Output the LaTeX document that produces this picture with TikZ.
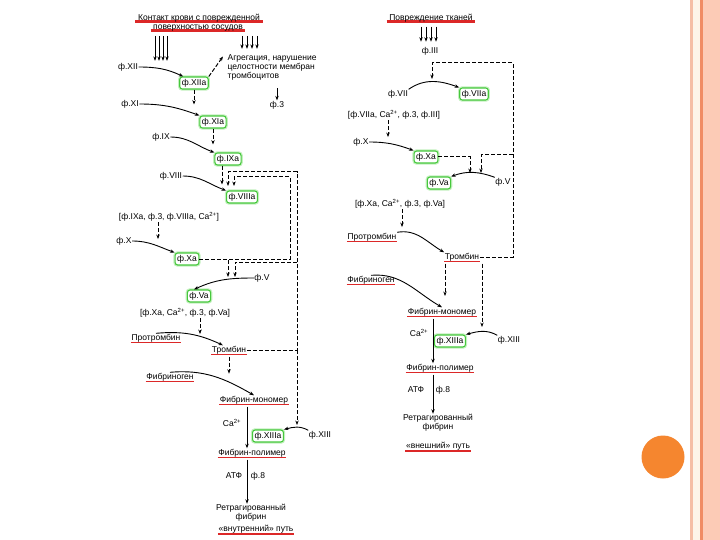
\documentclass[tikz,border=0pt]{standalone}
\usepackage{fontspec}
\setmainfont{Liberation Sans}
\usetikzlibrary{arrows.meta,backgrounds}
\definecolor{gbox}{RGB}{70,200,60}
\definecolor{gglow}{RGB}{195,240,190}
\definecolor{ured}{RGB}{220,40,40}
\definecolor{salm}{RGB}{252,203,182}
\definecolor{salm2}{RGB}{245,190,165}
\definecolor{cream}{RGB}{253,244,232}
\definecolor{orl}{RGB}{240,140,100}
\definecolor{ball}{RGB}{245,134,47}
\newcommand{\CaTwo}{Ca\textsuperscript{2+}}
\begin{document}
\begin{tikzpicture}[x=1pt,y=-1pt,
  t/.style={font=\fontsize{8.5}{9}\selectfont, inner sep=0.5pt, align=center},
  fb/.style={t, draw=gbox, line width=1.1pt, rounded corners=2.5pt, fill=white, inner xsep=2pt, inner ysep=2pt, preaction={draw=gglow, line width=3.5pt}},
  arr/.style={-{Stealth[length=4.5pt,width=3.4pt]}, line width=0.9pt},
  dsh/.style={arr, dash pattern=on 4pt off 2pt, line width=1pt},
  ul/.style={draw=ured, line width=0.9pt},
  bar/.style={draw=ured, line width=3pt}]
\useasboundingbox (0,0) rectangle (720,540);

% ---------- left column ----------
\node[t] (c1) at (199,18) {Контакт крови с поврежденной};
\node[t] (c2) at (198,28) {поверхностью сосудов};
\node[t] (xii) at (128,67) {ф.XII};
\node[fb] (xiia) at (194,83) {ф.XIIa};
\node[t, align=left, anchor=west] (agg) at (227,67) {Агрегация, нарушение\\целостности мембран\\ тромбоцитов};
\node[t] (f3a) at (277,105) {ф.3};
\node[t] (xi) at (130,104) {ф.XI};
\node[fb] (xia) at (213,122) {ф.XIa};
\node[t] (ix) at (161,137) {ф.IX};
\node[fb] (ixa) at (228,159) {ф.IXa};
\node[t] (viii) at (171,176) {ф.VIII};
\node[fb] (viiia) at (242,197) {ф.VIIIa};
\node[t] (br1) at (169,217) {[ф.IXa, ф.3, ф.VIIIa, \CaTwo]};
\node[t] (x) at (124,241) {ф.X};
\node[fb] (xa) at (187,259) {ф.Xa};
\node[t] (v) at (262,278) {ф.V};
\node[fb] (va) at (199,296) {ф.Va};
\node[t] (br2) at (185,313) {[ф.Xa, \CaTwo, ф.3, ф.Va]};
\node[t] (pt) at (156,338) {Протромбин};
\node[t] (tr) at (229,350) {Тромбин};
\node[t] (fg) at (170,377) {Фибриноген};
\node[t] (fm) at (254,400) {Фибрин-мономер};
\node[t] (ca) at (232,423) {\CaTwo};
\node[fb] (xiiia) at (268,436) {ф.XIIIa};
\node[t] (xiii) at (320,435) {ф.XIII};
\node[t] (fp) at (252,453) {Фибрин-полимер};
\node[t] (atf) at (234,476) {АТФ};
\node[t] (f8) at (258,476) {ф.8};
\node[t] (rf) at (251,513) {Ретрагированный\\фибрин};
\node[t] (in) at (256,529) {«внутренний» путь};
\coordinate (lv) at (247,0);

% ---------- right column ----------
\node[t] (pov) at (431,18) {Повреждение тканей};
\node[t] (iii) at (430,51) {ф.III};
\node[t] (vii) at (398,94) {ф.VII};
\node[fb] (viia) at (474,94) {ф.VIIa};
\node[t] (br3) at (394,115) {[ф.VIIa, \CaTwo, ф.3, ф.III]};
\node[t] (rx) at (361,142) {ф.X};
\node[fb] (rxa) at (426,157) {ф.Xa};
\node[t] (rv) at (503,182) {ф.V};
\node[fb] (rva) at (439,183) {ф.Va};
\node[t] (br4) at (400,204) {[ф.Xa, \CaTwo, ф.3, ф.Va]};
\node[t] (rpt) at (372,237) {Протромбин};
\node[t] (rtr) at (462,257) {Тромбин};
\node[t] (rfg) at (371,280) {Фибриноген};
\node[t] (rfm) at (442,312) {Фибрин-мономер};
\node[t] (rca) at (419,333) {\CaTwo};
\node[fb] (rxiiia) at (450,341) {ф.XIIIa};
\node[t] (rxiii) at (509,340) {ф.XIII};
\node[t] (rfp) at (440,368) {Фибрин-полимер};
\node[t] (ratf) at (416,390) {АТФ};
\node[t] (rf8) at (443,390) {ф.8};
\node[t] (rrf) at (438,423) {Ретрагированный\\фибрин};
\node[t] (ex) at (438,446) {«внешний» путь};
\coordinate (lvr) at (433,0);

% ---------- left connectors ----------
\foreach \dx in {-43,-39,-35,-31} \draw[arr] ([xshift=\dx pt,yshift=-4pt]c2.south) -- ++(0,25);
\foreach \dx in {44,49,54,59} \draw[arr] ([xshift=\dx pt,yshift=-4pt]c2.south) -- ++(0,13);
\draw[arr] (xii.east) to[out=0,in=155] ([xshift=4pt]xiia.north west);
\draw[dsh] (xiia.north east) -- ([xshift=-4pt,yshift=-3pt]agg.north west);
\draw[arr] ([yshift=12pt]f3a.north) -- (f3a.north);
\draw[dsh] (xiia.south) -- ++(0,15);
\draw[arr] (xi.east) to[out=0,in=160] (xia.north west);
\draw[dsh] (xia.south) -- ++(0,16);
\draw[arr] (ix.east) to[out=0,in=160] (ixa.north west);
\draw[dsh] ([xshift=-6pt]ixa.south) -- ++(0,19);
\draw[arr] (viii.east) to[out=0,in=160] (viiia.north west);
\coordinate (k8a) at (228,186);
\coordinate (k8b) at (234,186);
\coordinate (k5a) at (228,277);
\coordinate (k5b) at (235,277);
\coordinate (j0) at (297,350);
\coordinate (j1) at (297,262);
\coordinate (k13) at (297,425);
\draw[dsh] (xa.east) -- (290,259) -- (290,177) -- (234,177) -- (k8b);
\draw[dsh] (xa.east) -| (k5a);
\draw[dsh] (tr.east) -- (j0) -- (297,172) -- (228,172) -- (k8a);
\draw[dsh] (j1) -- (235,262) -- (k5b);
\draw[dsh] (j0) -- (k13);
\draw[dsh] ([xshift=-11pt]br1.south) -- ++(0,17);
\draw[arr] (x.east) to[out=0,in=160] (xa.north west);
\draw[arr] (v.west) to[out=180,in=25] ([xshift=-5pt]va.north);
\draw[dsh] ([xshift=15pt]br2.south) -- ++(0,16);
\draw[arr] (pt.north) to[out=5,in=155] ([xshift=-6pt]tr.north);
\draw[dsh] ([yshift=-2pt]tr.south) -- ++(0,17);
\draw[arr] (fg.north) to[out=5,in=150] (fm.north);
\draw[arr] ([yshift=-2pt]fm.south -| lv) -- (fp.north -| lv);
\draw[arr] (xiii.north west) to[out=150,in=15] (xiiia.north east);
\draw[arr] ([yshift=-2pt]fp.south -| lv) -- (rf.north -| lv);

% ---------- right connectors ----------
\foreach \dx in {-10,-5,0,5} \draw[arr] ([xshift=\dx pt,yshift=-4pt]pov.south) -- ++(0,15);
\draw[arr] (vii.north east) to[out=35,in=160] (viia.north west);
\coordinate (k7) at (432,79);
\coordinate (j2) at (513,155);
\coordinate (k5r) at (481,173);
\coordinate (k5s) at (470,173);
\draw[dsh] (rtr.east) -- (513,257) -- (513,63) -- (432,63) -- (k7);
\draw[dsh] (j2) -- (481,155) -- (k5r);
\draw[dsh] (rxa.east) -| (k5s);
\draw[dsh] ([xshift=-6pt]br3.south) -- ++(0,17);
\draw[arr] (rx.east) to[out=0,in=160] (rxa.north west);
\draw[arr] (rv.north west) to[out=160,in=20] (rva.north east);
\draw[dsh] ([xshift=2pt]br4.south) -- ++(0,18);
\draw[arr] (rpt.north east) to[out=10,in=150] (rtr.north west);
\coordinate (kfg) at (445,296);
\draw[dsh] ([yshift=-2pt]rtr.south west -| kfg) -- (kfg);
\coordinate (k13r) at (482,327);
\draw[dsh] ([yshift=-2pt]rtr.south east -| k13r) -- (k13r);
\draw[arr] (rfg.north) to[out=5,in=150] (rfm.north);
\draw[arr] ([yshift=-2pt]rfm.south -| lvr) -- (rfp.north -| lvr);
\draw[arr] (rxiii.north west) to[out=150,in=15] (rxiiia.north east);
\draw[arr] ([yshift=-2pt]rfp.south -| lvr) -- (rrf.north -| lvr);

% ---------- underlines ----------
\foreach \n in {pt,tr,fg,fm,fp,rpt,rtr,rfg,rfm,rfp}
  \draw[ul] ([yshift=-2.5pt]\n.base west) -- ([yshift=-2.5pt]\n.base east);
\begin{scope}[on background layer]
  \foreach \n in {c1,c2,pov}
    \draw[bar] ([xshift=-2pt,yshift=-1.2pt]\n.base west) -- ([xshift=2pt,yshift=-1.2pt]\n.base east);
  \foreach \n in {in,ex}
    \draw[bar, line width=2.2pt] ([yshift=-3pt]\n.base west) -- ([yshift=-3pt]\n.base east);
  \fill[salm] (703,0) rectangle (720,540);
  \fill[orl] (700,0) rectangle (703,540);
  \fill[cream] (693,0) rectangle (700,540);
  \fill[salm2] (690,0) rectangle (693,540);
\end{scope}
\fill[ball] (663,457) circle (21.5);
\end{tikzpicture}
\end{document}
